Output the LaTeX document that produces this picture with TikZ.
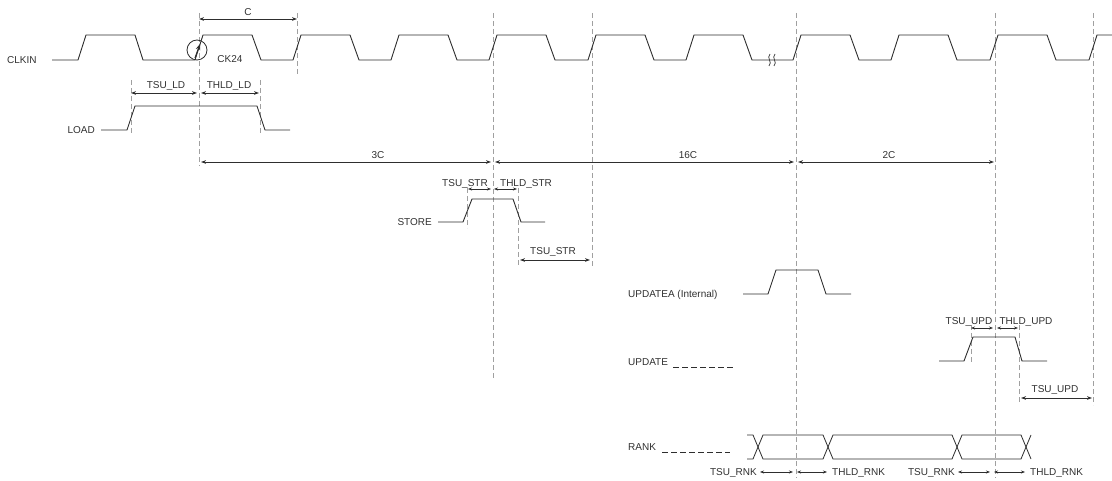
\documentclass[tikz,border=0pt]{standalone}
\usepackage{fontspec}
\setmainfont{Liberation Sans}
\usetikzlibrary{arrows.meta}
\definecolor{sig}{HTML}{2E2E2E}
\definecolor{gridc}{HTML}{A0A0A0}
\definecolor{txt}{HTML}{303030}
\tikzset{
  sigline/.style={draw=sig, line width=0.9pt, line join=miter},
  guide/.style={draw=gridc, line width=0.8pt, dash pattern=on 5pt off 3pt},
  dimline/.style={draw=sig, line width=0.8pt, {Stealth[length=5pt,width=3.6pt]}-{Stealth[length=5pt,width=3.6pt]}},
  smalldim/.style={draw=sig, line width=0.6pt, {Stealth[length=4pt,width=3pt]}-{Stealth[length=4pt,width=3pt]}},
  lbl/.style={text=txt, font=\fontsize{10}{12}\selectfont, inner sep=0pt, text height=7pt, text depth=0pt},
  busdash/.style={draw=sig, line width=0.8pt, dash pattern=on 6pt off 3pt},
}
\newcommand\dimar[5][dimline]{%
  \coordinate (#2a) at (#3,#5);
  \coordinate (#2b) at (#4,#5);
  \draw[#1] (#2a) -- (#2b);}
\begin{document}
\begin{tikzpicture}[x=1pt,y=-1pt]
\useasboundingbox (0,0) rectangle (1112,481);

% guide lines
\draw[guide] (199,13) -- (199,166);
\draw[guide] (297,13) -- (297,75);
\draw[guide] (493,13) -- (493,380);
\draw[guide] (592,13) -- (592,267);
\draw[guide] (796,13) -- (796,478);
\draw[guide] (995,13) -- (995,478);
\draw[guide] (1093,13) -- (1093,405);
\draw[guide] (131,80) -- (131,135);
\draw[guide] (260,80) -- (260,135);
\draw[guide] (467,188) -- (467,228);
\draw[guide] (518,188) -- (518,267);
\draw[guide] (971,325) -- (971,362);
\draw[guide] (1019,325) -- (1019,402);

% clock
\draw[sigline] (52,60) -- (78,60) -- (86,35) -- (135,35) -- (143,60)
  \foreach \r in {195,293,391,489,588,686,793,891,990} { -- (\r,60) -- (\r+8,35) -- (\r+57,35) -- (\r+66,60) }
  -- (1089,60) -- (1097,35) -- (1113,35);
\draw[sig, line width=0.7pt] (770,54) .. controls (766,58) and (773,62) .. (769,66);
\draw[sig, line width=0.7pt] (775,54) .. controls (771,58) and (778,62) .. (774,66);

\node[circle, draw=sig, line width=0.8pt, minimum size=20pt, inner sep=0pt] (ck) at (197,50) {};
\coordinate (cka) at (195,58);
\coordinate (ckb) at (200,44);
\draw[sig, line width=1.1pt, -{Stealth[length=6pt,width=4.5pt]}] (cka) -- (ckb);

% signals
\draw[sigline] (101,130) -- (127,130) -- (135,106) -- (257,106) -- (265,130) -- (290,130);
\draw[sigline] (438,222) -- (463,222) -- (472,199) -- (513,199) -- (521,222) -- (545,222);
\draw[sigline] (743,294) -- (768,294) -- (776,270) -- (818,270) -- (826,294) -- (851,294);
\draw[sigline] (939,361) -- (964,361) -- (973,337) -- (1015,337) -- (1022,361) -- (1047,361);
\draw[busdash] (673,367) -- (734,367);
\draw[busdash] (662,452) -- (730,452);

% rank bus
\draw[sigline, line width=0.8pt] (747,435) -- (753,435) -- (763,459) -- (823,459) -- (833,435) -- (952,435) -- (962,459) -- (1021,459) -- (1031,435);
\draw[sigline, line width=0.8pt] (747,459) -- (753,459) -- (763,435) -- (823,435) -- (833,459) -- (952,459) -- (962,435) -- (1021,435) -- (1031,459);

% dimensions
\dimar{dc}{199}{297}{19}
\dimar{dtsuld}{131}{197}{93}
\dimar{dthld}{201}{259}{93}
\dimar{d3c}{201}{491}{162}
\dimar{d16c}{495}{794}{162}
\dimar{d2c}{798}{994}{162}
\dimar[smalldim]{dtsustr}{468}{491}{189}
\dimar[smalldim]{dthldstr}{494}{517}{189}
\dimar{dtsustrb}{520}{590}{260}
\dimar[smalldim]{dtsuupd}{971}{993}{328}
\dimar[smalldim]{dthldupd}{997}{1018}{328}
\dimar{dtsuupdb}{1021}{1092}{398}
\dimar[smalldim]{drnka}{760}{793}{472}
\dimar[smalldim]{drnkb}{797}{827}{472}
\dimar[smalldim]{drnkc}{958}{990}{472}
\dimar[smalldim]{drnkd}{994}{1025}{472}

% labels
\node[lbl, anchor=west] (lclk) at (7,60) {CLKIN};
\node[lbl, anchor=east] (lload) at (95,130) {LOAD};
\node[lbl] (lc) at (248,12) {C};
\node[lbl] (lck) at (230,59) {CK24};
\node[lbl] (ltsuld) at (166,85) {TSU\_LD};
\node[lbl] (lthld) at (229,85) {THLD\_LD};
\node[lbl] (l3c) at (378,155) {3C};
\node[lbl] (l16c) at (688,155) {16C};
\node[lbl] (l2c) at (889,155) {2C};
\node[lbl] (ltsustr) at (465,183) {TSU\_STR};
\node[lbl] (lthldstr) at (526,183) {THLD\_STR};
\node[lbl, anchor=east] (lstore) at (432,222) {STORE};
\node[lbl] (ltsustrb) at (553,251) {TSU\_STR};
\node[lbl, anchor=west] (lupda) at (628,294) {UPDATEA (Internal)};
\node[lbl, anchor=west] (lupd) at (628,362) {UPDATE};
\node[lbl] (ltsuupd) at (969,321) {TSU\_UPD};
\node[lbl] (lthldupd) at (1026,321) {THLD\_UPD};
\node[lbl] (ltsuupdb) at (1055,389) {TSU\_UPD};
\node[lbl, anchor=west] (lrank) at (628,447) {RANK};
\node[lbl, anchor=east] (lr1) at (757,472) {TSU\_RNK};
\node[lbl, anchor=west] (lr2) at (832,472) {THLD\_RNK};
\node[lbl, anchor=east] (lr3) at (955,472) {TSU\_RNK};
\node[lbl, anchor=west] (lr4) at (1030,472) {THLD\_RNK};
\end{tikzpicture}
\end{document}
